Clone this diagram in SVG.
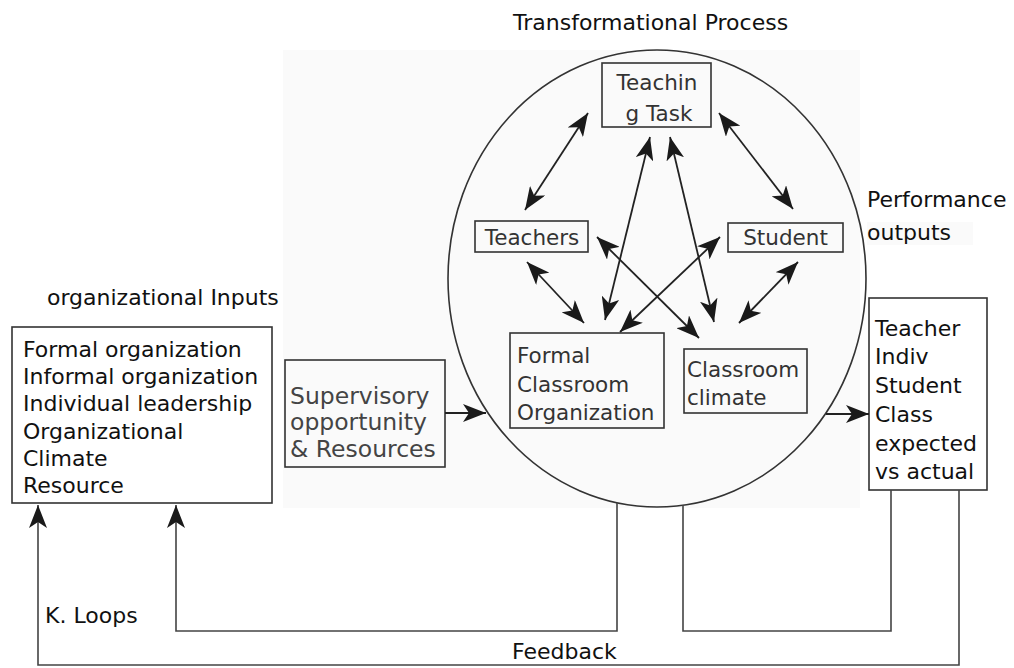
<svg xmlns="http://www.w3.org/2000/svg" width="1014" height="668" viewBox="0 0 1014 668">
  <style>
    text { font-family: "DejaVu Sans", "Liberation Sans", sans-serif; font-size: 22px; fill: #111; }
    .box { fill: none; stroke: #333; stroke-width: 1.6; }
    .inner { fill: #333; font-size: 21.5px; }
    .sup { fill: #444; font-size: 23.5px; }
    .con { fill: none; stroke: #222; stroke-width: 1.8; }
    .fb { fill: none; stroke: #444; stroke-width: 1.6; }
  </style>
  <defs>
    <marker id="ah" markerUnits="userSpaceOnUse" markerWidth="25" markerHeight="18" refX="23" refY="9" orient="auto-start-reverse" viewBox="0 0 25 18">
      <path d="M0,0 L23,9 L0,18 L6,9 Z" fill="#1a1a1a"/>
    </marker>
  </defs>

  <rect width="1014" height="668" fill="#ffffff"/>
  <!-- light panel behind the process area -->
  <rect x="283" y="50" width="577" height="458" fill="#fafafa"/>
  <rect x="867" y="222" width="106" height="23" fill="#fafafa"/>

  <text x="513" y="30">Transformational Process</text>
  <text x="867" y="207">Performance</text>
  <text x="867" y="240">outputs</text>
  <text x="47" y="305">organizational Inputs</text>
  <text x="45" y="623">K. Loops</text>
  <text x="512" y="659">Feedback</text>

  <ellipse id="process" cx="657" cy="278.5" rx="209" ry="228.5" fill="none" stroke="#333" stroke-width="1.6"/>

  <g id="inputs">
    <rect class="box" x="12" y="327" width="260" height="176"/>
    <text x="23" y="357">Formal organization</text>
    <text x="23" y="384">Informal organization</text>
    <text x="23" y="411">Individual leadership</text>
    <text x="23" y="439">Organizational</text>
    <text x="23" y="466">Climate</text>
    <text x="23" y="493">Resource</text>
  </g>

  <g id="supervisory">
    <rect class="box" x="285" y="360" width="160" height="107"/>
    <text class="sup" x="290" y="404">Supervisory</text>
    <text class="sup" x="290" y="430">opportunity</text>
    <text class="sup" x="290" y="457">&amp; Resources</text>
  </g>

  <g id="teaching-task">
    <rect class="box" x="602" y="63" width="109" height="64"/>
    <text class="inner" x="657" y="90" text-anchor="middle">Teachin</text>
    <text class="inner" x="659" y="121" text-anchor="middle">g Task</text>
  </g>

  <g id="teachers">
    <rect class="box" x="475" y="221" width="113" height="31"/>
    <text class="inner" x="532" y="245" text-anchor="middle">Teachers</text>
  </g>

  <g id="student">
    <rect class="box" x="728" y="223" width="115" height="29"/>
    <text class="inner" x="785.5" y="245" text-anchor="middle">Student</text>
  </g>

  <g id="formal-classroom">
    <rect class="box" x="510" y="333" width="154" height="95"/>
    <text class="inner" x="517" y="363">Formal</text>
    <text class="inner" x="517" y="392">Classroom</text>
    <text class="inner" x="517" y="420">Organization</text>
  </g>

  <g id="classroom-climate">
    <rect class="box" x="684" y="349" width="123" height="64"/>
    <text class="inner" x="687" y="377">Classroom</text>
    <text class="inner" x="687" y="405">climate</text>
  </g>

  <g id="outputs">
    <rect class="box" x="869" y="298" width="118" height="192"/>
    <text x="875" y="336">Teacher</text>
    <text x="875" y="364">Indiv</text>
    <text x="875" y="393" fill="#555">Student</text>
    <text x="875" y="422">Class</text>
    <text x="875" y="451">expected</text>
    <text x="875" y="479">vs actual</text>
  </g>

  <g id="connectors">
    <!-- relations inside the process -->
    <line class="con" x1="525" y1="210" x2="588" y2="113" marker-start="url(#ah)" marker-end="url(#ah)"/>
    <line class="con" x1="719" y1="113" x2="793" y2="209" marker-start="url(#ah)" marker-end="url(#ah)"/>
    <line class="con" x1="650" y1="137" x2="605" y2="320" marker-start="url(#ah)" marker-end="url(#ah)"/>
    <line class="con" x1="670" y1="137" x2="714" y2="322" marker-start="url(#ah)" marker-end="url(#ah)"/>
    <line class="con" x1="527" y1="262" x2="584" y2="323" marker-start="url(#ah)" marker-end="url(#ah)"/>
    <line class="con" x1="597" y1="237" x2="699" y2="338" marker-start="url(#ah)" marker-end="url(#ah)"/>
    <line class="con" x1="720" y1="237" x2="620" y2="332" marker-start="url(#ah)" marker-end="url(#ah)"/>
    <line class="con" x1="798" y1="262" x2="739" y2="323" marker-start="url(#ah)" marker-end="url(#ah)"/>
    <!-- flow in and out -->
    <line class="con" x1="445" y1="413" x2="486" y2="413" marker-end="url(#ah)"/>
    <line class="con" x1="826" y1="414" x2="869" y2="414" marker-end="url(#ah)"/>
    <!-- feedback loops -->
    <path class="fb" d="M617,503 V631 H176 V505" marker-end="url(#ah)"/>
    <path class="fb" d="M683,505 V631 H891 V490"/>
    <path class="fb" d="M959,490 V665 H38 V505" marker-end="url(#ah)"/>
  </g>
</svg>
